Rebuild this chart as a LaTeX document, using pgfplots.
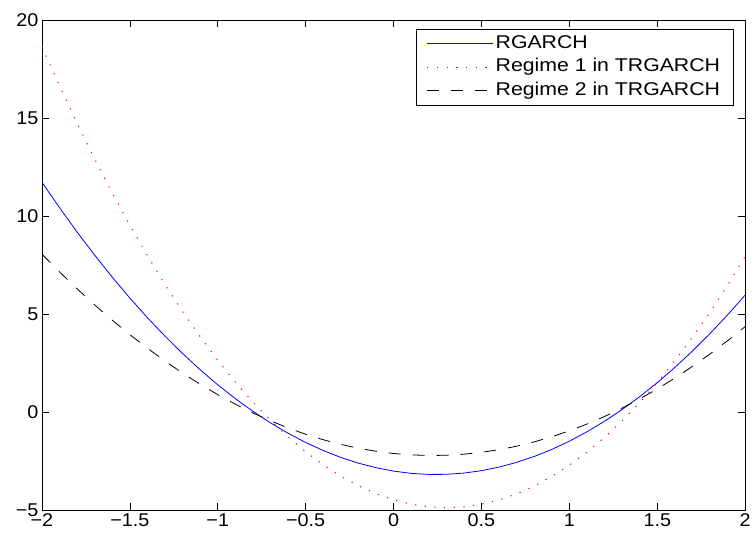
\documentclass[border=0pt]{standalone}
\usepackage{fontspec}
\setmainfont{Liberation Sans}[FakeStretch=1.07]
\newfontfamily\legfont{Liberation Sans}[FakeStretch=1.15]
\usepackage{pgfplots}
\pgfplotsset{compat=1.18}
\begin{document}
\begin{tikzpicture}
\begin{axis}[
  scale only axis, width=704bp, height=491bp,
  xmin=-2, xmax=2, ymin=-5, ymax=20,
  xtick={-2,-1.5,-1,-0.5,0,0.5,1,1.5,2},
  xticklabels={−2,−1.5,−1,−0.5,0,0.5,1,1.5,2},
  ytick={-5,0,5,10,15,20},
  yticklabels={−5,0,5,10,15,20},
  tick align=inside, major tick length=7bp,
  tick style={black, line width=0.6bp},
  axis line style={black, line width=0.8bp},
  tick label style={font=\fontsize{18.5bp}{20bp}\selectfont},
  legend style={at={(axis description cs:0.983,0.982)}, anchor=north east,
    font=\legfont\fontsize{18.5bp}{20bp}\selectfont,
    nodes={text height=13.5bp, text depth=4bp, inner ysep=3bp},
    inner xsep=11bp, inner ysep=3bp},
  legend cell align=left,
]
\addlegendimage{legend image code/.code={\draw[blue, line width=0.8bp] (0bp,0bp) -- (66bp,0bp);}}
\addlegendentry{RGARCH}
\addlegendimage{legend image code/.code={\draw[red, line width=1bp, dash pattern=on 1.2bp off 8.5bp] (0bp,0bp) -- (66bp,0bp);}}
\addlegendentry{Regime 1 in TRGARCH}
\addlegendimage{legend image code/.code={\draw[black, line width=0.8bp, dash pattern=on 12bp off 12bp] (0bp,0bp) -- (66bp,0bp);}}
\addlegendentry{Regime 2 in TRGARCH}
\addplot[color=blue, line width=0.8bp, forget plot] coordinates {
(-2.0,11.730) (-1.9,10.431) (-1.8,9.191) (-1.7,8.011) (-1.6,6.889) (-1.5,5.827)
(-1.4,4.824) (-1.3,3.881) (-1.2,2.996) (-1.1,2.171) (-1.0,1.405) (-0.9,0.699)
(-0.8,0.051) (-0.7,-0.537) (-0.6,-1.066) (-0.5,-1.535) (-0.4,-1.946) (-0.3,-2.297)
(-0.2,-2.589) (-0.1,-2.821) (0.0,-2.995) (0.1,-3.109) (0.2,-3.164) (0.3,-3.159)
(0.4,-3.096) (0.5,-2.973) (0.6,-2.791) (0.7,-2.549) (0.8,-2.249) (0.9,-1.889)
(1.0,-1.470) (1.1,-0.991) (1.2,-0.454) (1.3,0.143) (1.4,0.800) (1.5,1.515)
(1.6,2.289) (1.7,3.123) (1.8,4.017) (1.9,4.969) (2.0,5.980)
};
\addplot[color=red, line width=1bp, dash pattern=on 1.2bp off 8.5bp, forget plot] coordinates {
(-2.0,18.640) (-1.9,16.642) (-1.8,14.733) (-1.7,12.912) (-1.6,11.180) (-1.5,9.538)
(-1.4,7.983) (-1.3,6.517) (-1.2,5.141) (-1.1,3.853) (-1.0,2.654) (-0.9,1.543)
(-0.8,0.521) (-0.7,-0.411) (-0.6,-1.255) (-0.5,-2.011) (-0.4,-2.678) (-0.3,-3.256)
(-0.2,-3.745) (-0.1,-4.146) (0.0,-4.457) (0.1,-4.680) (0.2,-4.814) (0.3,-4.860)
(0.4,-4.816) (0.5,-4.683) (0.6,-4.463) (0.7,-4.153) (0.8,-3.755) (0.9,-3.267)
(1.0,-2.692) (1.1,-2.027) (1.2,-1.273) (1.3,-0.431) (1.4,0.499) (1.5,1.520)
(1.6,2.628) (1.7,3.826) (1.8,5.111) (1.9,6.486) (2.0,7.950)
};
\addplot[color=black, line width=0.8bp, dash pattern=on 12bp off 12bp, forget plot] coordinates {
(-2.0,8.060) (-1.9,7.158) (-1.8,6.297) (-1.7,5.476) (-1.6,4.699) (-1.5,3.963)
(-1.4,3.268) (-1.3,2.614) (-1.2,2.002) (-1.1,1.432) (-1.0,0.904) (-0.9,0.416)
(-0.8,-0.029) (-0.7,-0.433) (-0.6,-0.795) (-0.5,-1.116) (-0.4,-1.396) (-0.3,-1.633)
(-0.2,-1.830) (-0.1,-1.984) (0.0,-2.097) (0.1,-2.168) (0.2,-2.199) (0.3,-2.187)
(0.4,-2.134) (0.5,-2.038) (0.6,-1.903) (0.7,-1.725) (0.8,-1.505) (0.9,-1.244)
(1.0,-0.942) (1.1,-0.598) (1.2,-0.212) (1.3,0.216) (1.4,0.684) (1.5,1.195)
(1.6,1.747) (1.7,2.340) (1.8,2.975) (1.9,3.652) (2.0,4.370)
};
\end{axis}
\path ([xshift=-42bp,yshift=-29bp]current axis.south west) rectangle ([xshift=8bp,yshift=20bp]current axis.north east);
\end{tikzpicture}
\end{document}
